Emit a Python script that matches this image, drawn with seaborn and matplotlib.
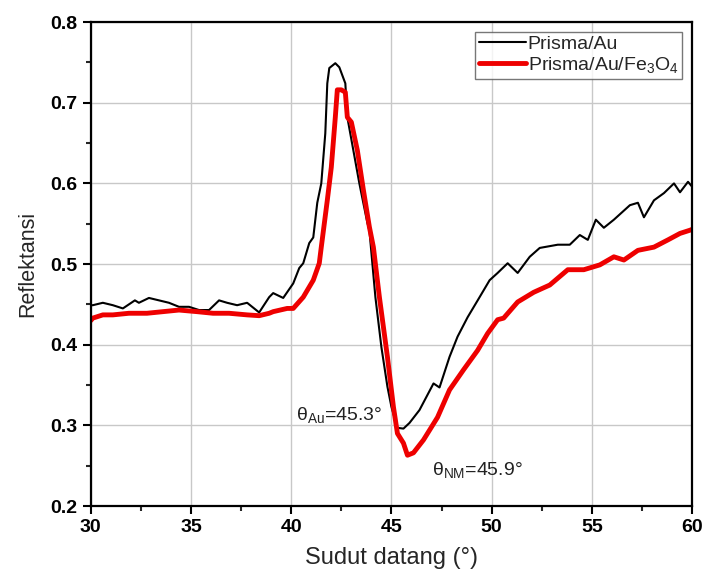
import numpy as np
import pandas as pd
import matplotlib
matplotlib.use("Agg")
import matplotlib.pyplot as plt
from matplotlib.ticker import MultipleLocator
import seaborn as sns

# Prisma/Au (black) - angle (deg) and reflectance
au_angle = [30.0, 30.1, 30.6, 31.1, 31.6, 32.2, 32.4, 32.9, 33.4, 33.9, 34.4, 34.9,
            35.4, 35.9, 36.4, 36.8, 37.3, 37.8, 38.4, 38.9, 39.1, 39.6, 40.1, 40.4,
            40.6, 40.9, 41.1, 41.3, 41.5, 41.7, 41.8, 41.9, 42.2, 42.4, 42.7, 42.8,
            43.1, 43.4, 43.8, 43.9, 44.2, 44.5, 44.8, 45.0, 45.3, 45.6, 45.9, 46.4,
            47.1, 47.4, 47.9, 48.3, 48.8, 49.4, 49.9, 50.3, 50.8, 51.3, 51.9, 52.4,
            53.3, 53.9, 54.4, 54.8, 55.2, 55.6, 56.1, 56.9, 57.3, 57.6, 58.1, 58.6,
            59.1, 59.4, 59.8, 60.0]
au_refl = [0.449, 0.449, 0.452, 0.449, 0.445, 0.455, 0.452, 0.458, 0.455, 0.452, 0.447, 0.447,
           0.443, 0.443, 0.455, 0.452, 0.449, 0.452, 0.440, 0.459, 0.464, 0.458, 0.476, 0.495,
           0.501, 0.526, 0.533, 0.576, 0.600, 0.662, 0.724, 0.743, 0.749, 0.744, 0.724, 0.682,
           0.641, 0.600, 0.551, 0.542, 0.459, 0.397, 0.348, 0.323, 0.297, 0.296, 0.303, 0.319,
           0.352, 0.347, 0.385, 0.410, 0.434, 0.459, 0.480, 0.489, 0.501, 0.489, 0.509, 0.520,
           0.524, 0.524, 0.536, 0.530, 0.555, 0.545, 0.555, 0.573, 0.576, 0.558, 0.579, 0.588,
           0.600, 0.589, 0.602, 0.596]

# Prisma/Au/Fe3O4 (red)
fe_angle = [30.0, 30.1, 30.6, 31.1, 31.9, 32.8, 33.6, 34.4, 35.3, 36.1, 36.9, 37.8,
            38.4, 38.9, 39.1, 39.8, 40.1, 40.6, 41.1, 41.4, 41.5, 41.8, 42.0, 42.2,
            42.3, 42.5, 42.7, 42.8, 43.0, 43.3, 43.6, 43.9, 44.1, 44.4, 44.8, 45.1,
            45.3, 45.6, 45.8, 46.1, 46.6, 47.3, 47.9, 48.6, 49.3, 49.8, 50.3, 50.6,
            51.3, 52.1, 52.9, 53.8, 54.6, 55.4, 56.1, 56.6, 57.3, 58.1, 58.8, 59.4,
            59.9, 60.0]
fe_refl = [0.430, 0.433, 0.437, 0.437, 0.439, 0.439, 0.441, 0.443, 0.441, 0.439, 0.439, 0.437,
           0.436, 0.439, 0.441, 0.445, 0.445, 0.459, 0.480, 0.501, 0.521, 0.579, 0.620, 0.682,
           0.716, 0.716, 0.713, 0.682, 0.676, 0.641, 0.592, 0.546, 0.521, 0.459, 0.385, 0.323,
           0.290, 0.278, 0.263, 0.266, 0.282, 0.310, 0.344, 0.369, 0.393, 0.414, 0.431, 0.433,
           0.453, 0.465, 0.474, 0.493, 0.493, 0.499, 0.509, 0.505, 0.517, 0.521, 0.530, 0.538,
           0.542, 0.543]

au_df = pd.DataFrame({"angle": au_angle, "refl": au_refl})
fe_df = pd.DataFrame({"angle": fe_angle, "refl": fe_refl})

sns.set_style("ticks")
plt.rcParams["font.family"] = ["Liberation Sans", "DejaVu Sans"]
plt.rcParams["mathtext.fontset"] = "custom"
plt.rcParams["mathtext.rm"] = "Liberation Sans"
plt.rcParams["mathtext.default"] = "regular"

fig = plt.figure(figsize=(7.04, 5.81), dpi=100)
ax = fig.add_axes([0.129, 0.129, 0.854, 0.833])

sns.lineplot(data=au_df, x="angle", y="refl", ax=ax, color="black", linewidth=1.5,
             sort=False, estimator=None, label="Prisma/Au")
sns.lineplot(data=fe_df, x="angle", y="refl", ax=ax, color="#ee0000", linewidth=3.5,
             sort=False, estimator=None, label="Prisma/Au/Fe$_3$O$_4$")

ax.set_xlim(30, 60)
ax.set_ylim(0.2, 0.8)
ax.xaxis.set_major_locator(MultipleLocator(5))
ax.xaxis.set_minor_locator(MultipleLocator(2.5))
ax.yaxis.set_major_locator(MultipleLocator(0.1))
ax.yaxis.set_minor_locator(MultipleLocator(0.05))
ax.set_yticks(np.arange(0.2, 0.81, 0.1))
ax.set_yticklabels([f"{v:.1f}" for v in np.arange(0.2, 0.81, 0.1)])
ax.grid(True, which="major", color="#c8c8c8", linewidth=1.0)

ax.tick_params(axis="both", which="major", direction="out", length=6, width=1.5,
               labelsize=14, colors="black")
ax.tick_params(axis="both", which="minor", direction="out", length=3.5, width=1.5)
for lbl in ax.get_xticklabels() + ax.get_yticklabels():
    lbl.set_fontweight("bold")
for sp in ax.spines.values():
    sp.set_linewidth(1.6)
    sp.set_color("black")

ax.set_xlabel("Sudut datang (°)", fontsize=17, labelpad=8)
ax.set_ylabel("Reflektansi", fontsize=15.5, labelpad=9)

ax.text(44.55, 0.313, r"θ$_{Au}$=45.3°", fontsize=14, ha="right", va="center", color="#222222")
ax.text(47.0, 0.245, r"θ$_{NM}$=45.9°", fontsize=14, ha="left", va="center", color="#222222")

leg = ax.legend(loc="upper right", fontsize=14, frameon=True, fancybox=False,
                borderpad=0.2, handlelength=2.4, handletextpad=0.1, labelspacing=0.1,
                borderaxespad=0.5)
leg.get_frame().set_edgecolor("#555555")
leg.get_frame().set_linewidth(1.0)

fig.savefig("out.png", dpi=100)
